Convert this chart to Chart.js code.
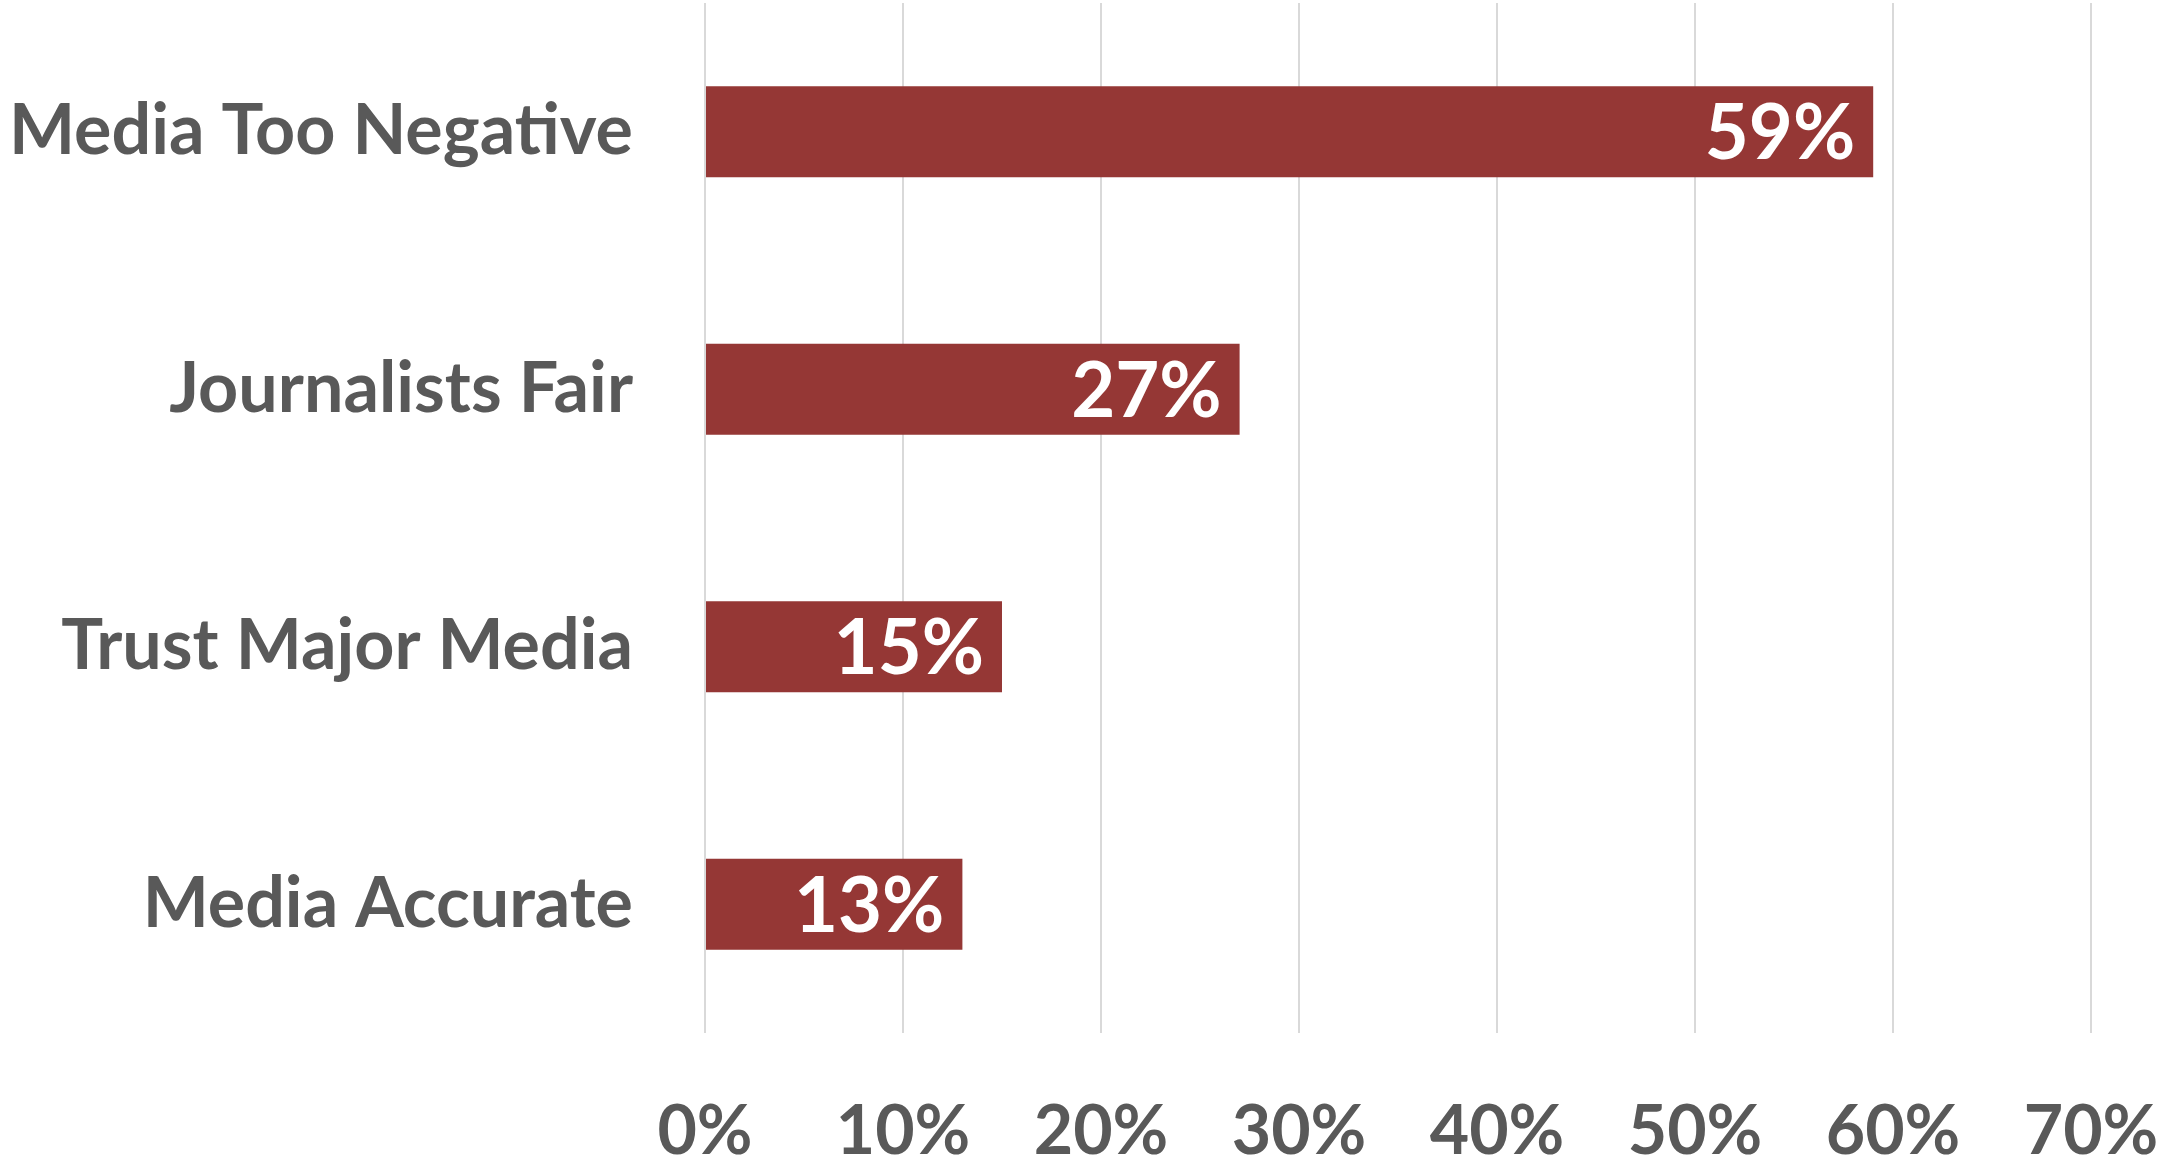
<!DOCTYPE html>
<html>
<head>
<meta charset="utf-8">
<script src="https://cdn.jsdelivr.net/npm/chart.js@4"></script>
<style>
  body { margin: 0; background: #fff; }
  #chartBox { width: 2159px; height: 1156px; }
</style>
</head>
<body>
<div id="chartBox"><canvas id="chart"></canvas></div>
<script>
const categories = ["Media Too Negative", "Journalists Fair", "Trust Major Media", "Media Accurate"];
const shares = [59, 27, 15, 13];
const tickMax = 70;
const tickStep = 10;

const textGrey = "#595959";
const barRed = "#953735";

// draws the white % value inside the end of each bar
const barValueLabels = {
  id: "barValueLabels",
  afterDatasetsDraw(chart) {
    const ctx = chart.ctx;
    const meta = chart.getDatasetMeta(0);
    ctx.save();
    ctx.font = "bold 76px Lato";
    ctx.fillStyle = "#ffffff";
    ctx.textAlign = "right";
    ctx.textBaseline = "middle";
    meta.data.forEach((bar, i) => {
      ctx.fillText(shares[i] + "%", bar.x - 18, bar.y + 3);
    });
    ctx.restore();
  },
};

new Chart(document.getElementById("chart").getContext("2d"), {
  type: "bar",
  data: {
    labels: categories,
    datasets: [
      {
        data: shares,
        backgroundColor: barRed,
        barPercentage: 0.353,
        categoryPercentage: 1,
      },
    ],
  },
  options: {
    indexAxis: "y",
    responsive: true,
    maintainAspectRatio: false,
    animation: false,
    layout: { padding: { top: 3, right: 68, left: 0, bottom: 0 } },
    plugins: {
      legend: { display: false },
      tooltip: { enabled: false },
    },
    scales: {
      x: {
        min: 0,
        max: tickMax,
        ticks: {
          stepSize: tickStep,
          color: textGrey,
          font: { family: "Lato", weight: "bold", size: 68 },
          padding: 58,
          maxRotation: 0,
          callback: (v) => v + "%",
        },
        grid: { color: "#d9d9d9", lineWidth: 2, drawTicks: false },
        border: { display: false },
        afterFit: (scale) => {
          scale.height = 123;
          scale.paddingLeft = 0;
          scale.paddingRight = 0;
        },
      },
      y: {
        ticks: {
          color: textGrey,
          font: { family: "Lato", weight: "bold", size: 70 },
          padding: 72,
        },
        grid: { display: false, drawTicks: false },
        border: { display: false },
        afterFit: (scale) => {
          scale.width = 705;
          scale.paddingTop = 0;
          scale.paddingBottom = 0;
        },
      },
    },
  },
  plugins: [barValueLabels],
});
</script>
</body>
</html>
